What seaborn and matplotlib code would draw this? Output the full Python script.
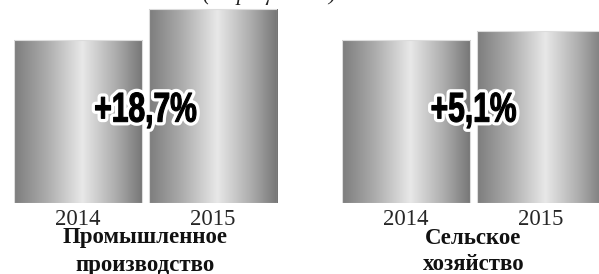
import numpy as np
import pandas as pd
import seaborn as sns
import matplotlib.pyplot as plt
import matplotlib.patheffects as pe
from matplotlib.colors import LinearSegmentedColormap
from matplotlib.transforms import Affine2D

# data
years = ['2014', '2015']
sectors = ['Промышленное\nпроизводство', 'Сельское\nхозяйство']
industry = [100, 118.7]
agriculture = [100, 105.1]
growth = ['+18,7%', '+5,1%']
subtitle = '(в процентах)'

df = pd.DataFrame({
    'sector': [sectors[0]] * 2 + [sectors[1]] * 2,
    'year': years + years,
    'value': industry + agriculture,
})


class Squeezed(pe.AbstractPathEffect):
    """white outline + heavy fill, glyphs narrowed around the text centre"""
    def __init__(self, text, sx, lw, halo):
        super().__init__()
        self.text, self.sx, self.lw, self.halo = text, sx, lw, halo

    def draw_path(self, renderer, gc, tpath, affine, rgbFace=None):
        cx = self.text.get_transform().transform(self.text.get_position())[0]
        a = affine + Affine2D().translate(-cx, 0).scale(self.sx, 1).translate(cx, 0)
        gc0 = renderer.new_gc()
        gc0.copy_properties(gc)
        gc0.set_linewidth(self.lw)
        gc0.set_foreground(self.halo)
        renderer.draw_path(gc0, tpath, a, rgbFace)
        gc0.set_linewidth(0.8)
        gc0.set_foreground('black')
        renderer.draw_path(gc0, tpath, a, rgbFace)
        gc0.restore()


sns.set_style('white')
plt.rcParams['font.family'] = ['Liberation Serif', 'DejaVu Serif']

fig = plt.figure(figsize=(5.99, 2.74), dpi=100)
W, H = 599, 274

# metallic gradient for bars
metal = LinearSegmentedColormap.from_list('metal', [
    (0.0, (0.49, 0.49, 0.49)),
    (0.25, (0.67, 0.67, 0.67)),
    (0.53, (0.91, 0.91, 0.91)),
    (0.8, (0.67, 0.67, 0.67)),
    (1.0, (0.46, 0.46, 0.46)),
])
grad = np.linspace(0, 1, 256).reshape(1, -1)

bw = 0.955
bottom_px, top_px = 203, 0
ymax = 100 * (bottom_px - top_px) / (bottom_px - 39.5)
axes_left = [14, 342]
axes_right = [277, 605]

for i, sec in enumerate(sectors):
    ax = fig.add_axes([axes_left[i] / W, (H - bottom_px) / H,
                       (axes_right[i] - axes_left[i]) / W, (bottom_px - top_px) / H])
    sub = df[df.sector == sec]
    sns.barplot(data=sub, x='year', y='value', ax=ax, width=bw,
                color='0.7', errorbar=None)

    for p in ax.patches:
        x0, y0 = p.get_x(), p.get_y()
        im = ax.imshow(grad, cmap=metal, aspect='auto', zorder=1,
                       extent=[x0, x0 + p.get_width(), y0, y0 + p.get_height()])
        im.set_clip_path(p)
        p.set_facecolor('none')
        p.set_edgecolor('#dcdcdc')
        p.set_linewidth(0.8)
        p.set_zorder(2)
    ax.set_xlim(-bw / 2, 1 + bw / 2)
    ax.set_ylim(0, ymax)

    sns.despine(ax=ax, left=True, bottom=True)
    ax.set_yticks([])
    ax.set_xlabel('')
    ax.set_ylabel('')
    ax.tick_params(axis='x', length=0, pad=4, labelsize=16.5, labelcolor='#262626')
    ax.set_facecolor('none')

    t = ax.text(0.5, 0.455, growth[i], transform=ax.get_xaxis_transform(),
                ha='center', va='center', fontsize=30, fontweight='bold',
                family=['Liberation Sans', 'DejaVu Sans'], color='black', zorder=5)
    t.set_path_effects([Squeezed(t, 0.72, 5.5, 'white')])

    for j, line in enumerate(sec.split('\n')):
        ax.text(0.5, (bottom_px - (238 + 27 * j)) / (bottom_px - top_px), line,
                transform=ax.get_xaxis_transform(), ha='center', va='center',
                fontsize=16.5, fontweight='bold', color='#111111', clip_on=False)

fig.text(270 / W, 1.0, subtitle, ha='center', va='baseline', fontsize=16,
         style='italic', color='#222222')

fig.savefig('out.png', dpi=100)
